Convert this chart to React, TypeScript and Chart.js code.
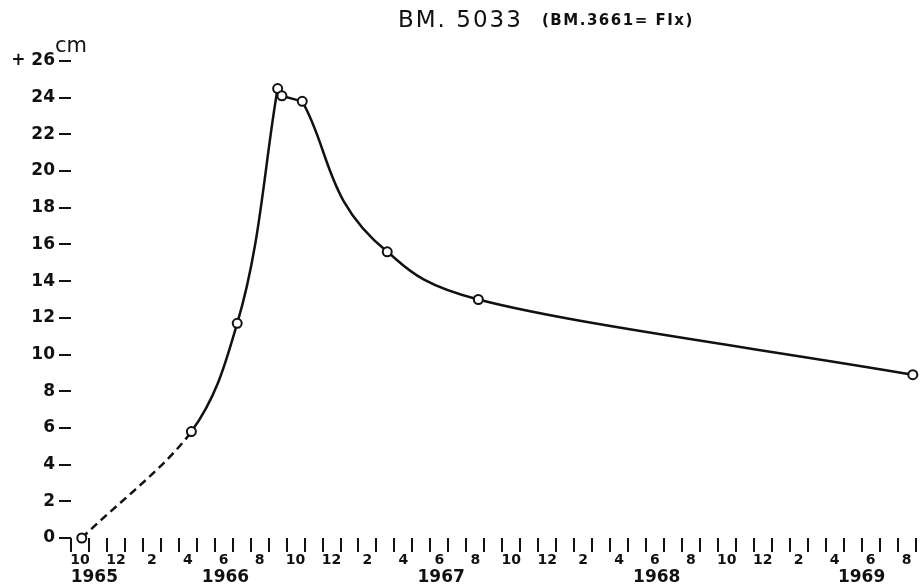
import { useEffect, useRef } from 'react';
import { Chart, registerables } from 'chart.js';

Chart.register(...registerables);

// Months elapsed since October 1965 (0 = Oct 1965)
const monthsSinceOct1965 = [0.1, 6.2, 8.75, 11.0, 11.24, 12.37, 17.1, 22.17, 46.35];
// Rise of benchmark BM. 5033 in cm
const levelCm = [0, 5.8, 11.7, 24.5, 24.1, 23.8, 15.6, 13.0, 8.9];

// index ranges of the three drawn parts of the curve
const riseRange = [0, 3];
const peakRange = [3, 5];
const decayRange = [5, 8];

const yTickValues = [0, 2, 4, 6, 8, 10, 12, 14, 16, 18, 20, 22, 24, 26];
// labels of even months, at month offsets 0, 2, 4, ... 46
const monthTickLabels = [
  '10', '12', '2', '4', '6', '8',
  '10', '12', '2', '4', '6', '8',
  '10', '12', '2', '4', '6', '8',
  '10', '12', '2', '4', '6', '8',
];
const yearLabels = ['1965', '1966', '1967', '1968', '1969'];
const yearLabelMonths = [0.8, 8.1, 20.1, 32.1, 43.5];

const titleMain = 'BM. 5033';
const titleNote = '(BM.3661= FIx)';
const unitLabel = 'cm';

const X_MIN = -0.5;
const X_MAX = 46.5;
const INK = '#111111';
const FONT = '"DejaVu Sans", sans-serif';

const textPlugin = {
  id: 'textPlugin',
  afterDraw(chart: any) {
    const ctx = chart.ctx as CanvasRenderingContext2D;
    const y = chart.scales.y;
    ctx.save();
    ctx.fillStyle = INK;
    ctx.textBaseline = 'alphabetic';
    ctx.textAlign = 'left';
    ctx.font = `normal 23px ${FONT}`;
    (ctx as any).letterSpacing = '2px';
    ctx.fillText(titleMain, 398, 27);
    ctx.font = `bold 15px ${FONT}`;
    (ctx as any).letterSpacing = '1.5px';
    ctx.fillText(titleNote, 542, 25);
    (ctx as any).letterSpacing = '0px';
    ctx.font = `normal 21px ${FONT}`;
    ctx.fillText(unitLabel, chart.chartArea.left - 16, y.getPixelForValue(26) - 9);
    ctx.restore();
  },
};

function points(range: number[]) {
  const out: { x: number; y: number }[] = [];
  for (let i = range[0]; i <= range[1]; i++) out.push({ x: monthsSinceOct1965[i], y: levelCm[i] });
  return out;
}

const curveStyle = {
  borderColor: INK,
  borderWidth: 2.5,
  fill: false,
  pointRadius: 0,
  pointHoverRadius: 0,
  clip: false as any,
  order: 2,
};

export default function App() {
  const ref = useRef<HTMLCanvasElement | null>(null);

  useEffect(() => {
    if (!ref.current) return;
    const chart = new Chart(ref.current, {
      type: 'line',
      data: {
        datasets: [
          {
            // markers
            data: points([0, monthsSinceOct1965.length - 1]),
            showLine: false,
            clip: false as any,
            order: 0,
            pointRadius: 4.5,
            pointBorderWidth: 2,
            pointBackgroundColor: '#ffffff',
            pointBorderColor: INK,
          },
          {
            ...curveStyle,
            data: points(riseRange),
            indexAxis: 'y',
            cubicInterpolationMode: 'monotone',
            segment: {
              borderDash: (ctx: any) => (ctx.p0DataIndex === 0 ? [8, 5] : undefined),
            },
          } as any,
          {
            ...curveStyle,
            data: points(peakRange),
            tension: 0,
          },
          {
            ...curveStyle,
            data: points(decayRange),
            indexAxis: 'y',
            cubicInterpolationMode: 'monotone',
          } as any,
        ],
      },
      options: {
        responsive: false,
        animation: false,
        devicePixelRatio: 1,
        layout: { padding: { top: 61, right: 1, left: 0, bottom: 0 } },
        plugins: {
          legend: { display: false },
          tooltip: { enabled: false },
          title: { display: false },
        },
        scales: {
          x: {
            type: 'linear',
            position: 'bottom',
            weight: 0,
            min: X_MIN,
            max: X_MAX,
            border: { display: false },
            grid: {
              drawOnChartArea: false,
              drawTicks: true,
              tickLength: 14,
              lineWidth: 2,
              tickColor: (ctx: any) =>
                ctx.tick && !Number.isInteger(ctx.tick.value) ? INK : 'rgba(0,0,0,0)',
            },
            afterBuildTicks: (scale: any) => {
              const t: { value: number }[] = [];
              for (let k = 0; k <= (X_MAX - X_MIN) * 2; k++) t.push({ value: X_MIN + k / 2 });
              scale.ticks = t;
            },
            afterFit: (scale: any) => {
              scale.height = 27;
            },
            ticks: {
              autoSkip: false,
              maxRotation: 0,
              minRotation: 0,
              padding: 0,
              color: INK,
              font: { family: FONT, size: 14, weight: 'bold' },
              callback: (value: any) => {
                const v = Number(value);
                if (Number.isInteger(v) && v % 2 === 0) return monthTickLabels[v / 2] ?? '';
                return '';
              },
            },
          },
          x2: {
            type: 'linear',
            position: 'bottom',
            weight: 1,
            min: X_MIN,
            max: X_MAX,
            border: { display: false },
            grid: { display: false, drawTicks: false, drawOnChartArea: false },
            afterBuildTicks: (scale: any) => {
              scale.ticks = yearLabelMonths.map((v) => ({ value: v }));
            },
            afterFit: (scale: any) => {
              scale.height = 23;
            },
            ticks: {
              autoSkip: false,
              maxRotation: 0,
              minRotation: 0,
              padding: 2,
              color: INK,
              font: { family: FONT, size: 17, weight: 'bold' },
              callback: (value: any) => {
                const i = yearLabelMonths.indexOf(Number(value));
                return i >= 0 ? yearLabels[i] : '';
              },
            },
          },
          y: {
            type: 'linear',
            min: 0,
            max: 26,
            border: { display: false },
            grid: {
              drawOnChartArea: false,
              drawTicks: true,
              tickLength: 12,
              lineWidth: 2,
              tickColor: INK,
            },
            afterBuildTicks: (scale: any) => {
              scale.ticks = yTickValues.map((v) => ({ value: v }));
            },
            afterFit: (scale: any) => {
              scale.width = 71;
            },
            ticks: {
              padding: 4,
              color: INK,
              font: { family: FONT, size: 17, weight: 'bold' },
              callback: (value: any) => (Number(value) === 26 ? '+ 26' : String(value)),
            },
          },
        },
      },
      plugins: [textPlugin],
    });
    return () => chart.destroy();
  }, []);

  return (
    <div style={{ position: 'fixed', left: 0, top: 0, width: 922, height: 588, background: '#fff' }}>
      <canvas ref={ref} width={922} height={588} style={{ display: 'block', width: 922, height: 588 }} />
    </div>
  );
}
